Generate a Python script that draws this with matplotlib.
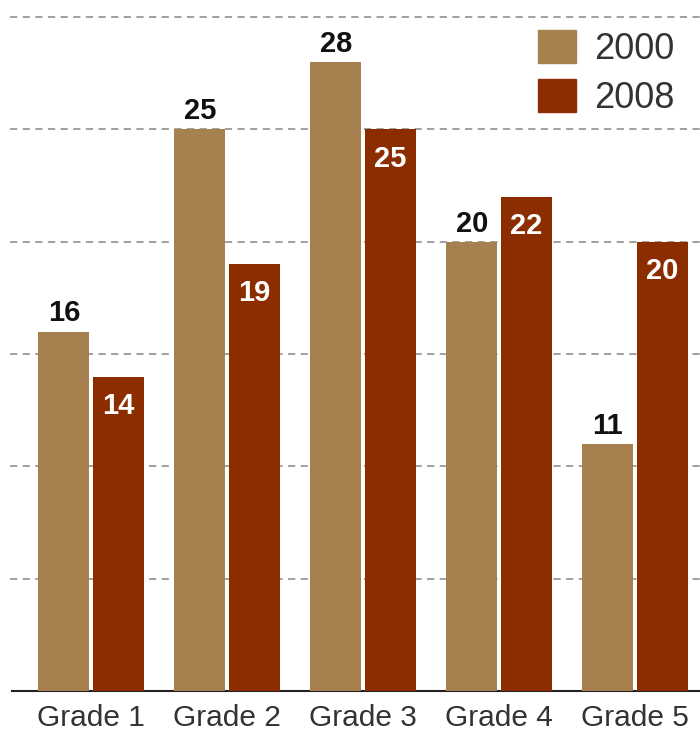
import numpy as np
import matplotlib
matplotlib.use("Agg")
import matplotlib.pyplot as plt
from matplotlib.patches import Patch

plt.rcParams['font.family'] = ['Liberation Sans', 'DejaVu Sans']

grades = ["Grade 1", "Grade 2", "Grade 3", "Grade 4", "Grade 5"]
vals_2000 = [16, 25, 28, 20, 11]
vals_2008 = [14, 19, 25, 22, 20]
series = ["2000", "2008"]

col_2000 = "#A6814F"
col_2008 = "#8C2D00"

fig = plt.figure(figsize=(7, 7.31), dpi=100)
ax = fig.add_axes([10 / 700, 40 / 731, 690 / 700, 691 / 731])

x = np.arange(len(grades))
w = 0.375
off = 0.2

ax.bar(x - off, vals_2000, w, color=col_2000, zorder=3)
ax.bar(x + off, vals_2008, w, color=col_2008, zorder=3)

for xi, v in zip(x, vals_2000):
    ax.annotate(str(v), (xi - off, v), xytext=(0, 3), textcoords="offset points",
                ha="center", va="bottom", fontsize=21, fontweight="bold", color="#111111")
for xi, v in zip(x, vals_2008):
    ax.annotate(str(v), (xi + off, v), xytext=(0, -11), textcoords="offset points",
                ha="center", va="top", fontsize=21, fontweight="bold", color="white", zorder=4)

ax.set_xlim(-0.596, 4.478)
ax.set_ylim(0, 30.76)
ax.set_yticks([5, 10, 15, 20, 25, 30])
ax.set_xticks(x)
ax.set_xticklabels(grades, fontsize=21.5, color="#333333")
ax.tick_params(axis="x", length=0, pad=9)
ax.tick_params(axis="y", length=0, labelleft=False)
ax.yaxis.grid(True, linestyle=(0, (4, 3)), color="#999999", linewidth=1.3, zorder=0)

for s in ["top", "right", "left"]:
    ax.spines[s].set_visible(False)
ax.spines["bottom"].set_color("#222222")
ax.spines["bottom"].set_linewidth(1.5)
ax.spines["bottom"].set_bounds(-0.58, 4.478)

handles = [Patch(color=col_2000), Patch(color=col_2008)]
ax.legend(handles, series, loc="upper right", bbox_to_anchor=(1.01, 1.004),
          frameon=False, fontsize=26, handlelength=1.05, handleheight=1.05,
          handletextpad=0.5, labelspacing=0.33, labelcolor="#333333")

fig.savefig("out.png", dpi=100)
